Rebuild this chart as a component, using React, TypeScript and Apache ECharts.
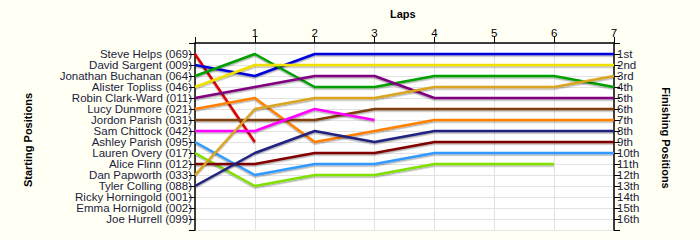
import React, { useEffect, useRef } from "react";
import * as echarts from "echarts";

const drivers = [
  "Steve Helps (069)",
  "David Sargent (009)",
  "Jonathan Buchanan (064)",
  "Alister Topliss (046)",
  "Robin Clark-Ward (011)",
  "Lucy Dunmore (021)",
  "Jordon Parish (031)",
  "Sam Chittock (042)",
  "Ashley Parish (095)",
  "Lauren Overy (017)",
  "Alice Flinn (012)",
  "Dan Papworth (033)",
  "Tyler Colling (088)",
  "Ricky Horningold (001)",
  "Emma Hornigold (002)",
  "Joe Hurrell (099)",
];

const finishLabels = [
  "1st", "2nd", "3rd", "4th", "5th", "6th", "7th", "8th",
  "9th", "10th", "11th", "12th", "13th", "14th", "15th", "16th",
];

const lapTicks = [0, 1, 2, 3, 4, 5, 6, 7];

// positions per lap (lap 0 = start)
const steveHelps = [1, 9];
const davidSargent = [2, 3, 1, 1, 1, 1, 1, 1];
const jonathanBuchanan = [3, 1, 4, 4, 3, 3, 3, 4];
const alisterTopliss = [4, 2, 2, 2, 2, 2, 2, 2];
const robinClarkWard = [5, 4, 3, 3, 5, 5, 5, 5];
const lucyDunmore = [6, 5, 9, 8, 7, 7, 7, 7];
const jordonParish = [7, 7, 7, 6, 6, 6, 6, 6];
const samChittock = [8, 8, 6, 7];
const ashleyParish = [9, 12, 11, 11, 10, 10, 10, 10];
const laurenOvery = [10, 13, 12, 12, 11, 11, 11];
const aliceFlinn = [11, 11, 10, 10, 9, 9, 9, 9];
const danPapworth = [12, 6, 5, 5, 4, 4, 4, 3];
const tylerColling = [13, 10, 8, 9, 8, 8, 8, 8];

const seriesData = [
  steveHelps, davidSargent, jonathanBuchanan, alisterTopliss, robinClarkWard,
  lucyDunmore, jordonParish, samChittock, ashleyParish, laurenOvery,
  aliceFlinn, danPapworth, tylerColling,
];

const colors = [
  "#e00000", "#0000d8", "#00a000", "#f0e000", "#800080",
  "#ff8000", "#804010", "#ff00ff", "#3399ff", "#80e000",
  "#800000", "#daa520", "#202080",
];

const textColor = "#1c1c3c";
const font = "'Liberation Sans', Arial, sans-serif";

export default function App() {
  const ref = useRef<HTMLDivElement>(null);
  useEffect(() => {
    if (!ref.current) return;
    const chart = echarts.init(ref.current, null, { renderer: "svg" });
    const yAxisBase = {
      type: "value" as const,
      min: 0,
      max: 17,
      interval: 1,
      inverse: true,
      axisLine: { show: true, lineStyle: { color: "#000", width: 1.5 } },
      axisTick: { show: true, length: 6, lineStyle: { color: "#000" } },
      splitLine: { show: true, lineStyle: { color: "#e2e2e2", width: 1 } },
    };
    chart.setOption({
      animation: false,
      backgroundColor: "#fffff4",
      textStyle: { fontFamily: font },
      grid: {
        left: 195,
        right: 86,
        top: 43,
        height: 187,
        show: true,
        backgroundColor: "#ffffff",
        borderWidth: 0,
      },
      xAxis: {
        type: "value",
        position: "top",
        min: 0,
        max: 7,
        interval: 1,
        axisLine: { show: true, lineStyle: { color: "#000", width: 1.5 } },
        axisTick: { show: true, length: 6, lineStyle: { color: "#000" } },
        splitLine: { show: true, lineStyle: { color: "#e2e2e2", width: 1 } },
        axisLabel: {
          color: "#000",
          fontSize: 11.5,
          fontFamily: font,
          margin: 4,
          formatter: (v: number) => (v === 0 ? "" : String(lapTicks[v])),
        },
      },
      yAxis: [
        {
          ...yAxisBase,
          position: "left",
          axisLabel: {
            color: textColor,
            fontSize: 11.5,
            fontFamily: font,
            margin: 3,
            formatter: (v: number) => (v >= 1 && v <= 16 ? drivers[v - 1] : ""),
          },
        },
        {
          ...yAxisBase,
          position: "right",
          splitLine: { show: false },
          axisLabel: {
            color: textColor,
            fontSize: 11.5,
            fontFamily: font,
            margin: 3,
            formatter: (v: number) => (v >= 1 && v <= 16 ? finishLabels[v - 1] : ""),
          },
        },
      ],
      graphic: [
        {
          type: "text",
          left: 390,
          top: 8,
          style: { text: "Laps", font: `bold 11px ${font}`, fill: "#000" },
        },
        {
          type: "text",
          x: 28,
          y: 140,
          rotation: Math.PI / 2,
          style: {
            text: "Starting Positions",
            font: `bold 11px ${font}`,
            fill: "#000",
            align: "center",
            verticalAlign: "middle",
          },
        },
        {
          type: "text",
          x: 666,
          y: 138,
          rotation: -Math.PI / 2,
          style: {
            text: "Finishing Positions",
            font: `bold 11px ${font}`,
            fill: "#000",
            align: "center",
            verticalAlign: "middle",
          },
        },
      ],
      series: seriesData.map((d, i) => ({
        type: "line",
        name: drivers[i],
        yAxisIndex: 0,
        showSymbol: false,
        symbol: "none",
        data: d.map((p, lap) => [lapTicks[lap], p]),
        lineStyle: {
          color: colors[i],
          width: 2.5,
          shadowColor: "rgba(0,0,0,0.3)",
          shadowOffsetY: 1.5,
          shadowBlur: 1,
        },
        itemStyle: { color: colors[i] },
      })),
    });
    return () => chart.dispose();
  }, []);
  return (
    <div
      ref={ref}
      style={{ position: "fixed", left: 0, top: 0, width: 700, height: 240 }}
    />
  );
}
